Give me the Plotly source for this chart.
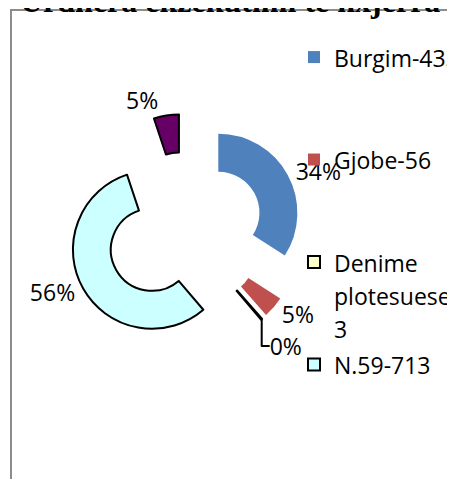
import plotly.graph_objects as go

# ---- data ----
categories = ["Burgim-433", "Gjobe-56", "Denime plotesuese-3", "N.59-713", " "]
values = [433, 56, 3, 713, 65]
pct_labels = ["34%", "5%", "0%", "56%", "5%"]
title_text = "Urdhera ekzekutimi te nxjerra 2"

# ---- styles ----
slice_colors = ["#4F81BD", "#C0504D", "#FFFFCC", "#CCFFFF", "#660066"]
slice_line_w = [0, 0, 2, 2, 2]
S = "<span style='font-size:23px'>{}</span>"
# legend text (wrapping / spacing lines only)
legend_text = [
    S.format("Burgim-433") + "<br> <br> ",
    S.format("Gjobe-56") + "<br> <br> ",
    S.format("Denime") + "<br>" + S.format("plotesuese-") + "<br>" + S.format("3"),
    S.format("N.59-713") + "<br> <br> <br> ",
    " ",
]

W, H = 455, 479
cx, cy, box = 177, 223, 234

fig = go.Figure(
    go.Pie(
        labels=legend_text,
        values=values,
        text=pct_labels,
        textinfo="text",
        textposition="outside",
        sort=False,
        direction="clockwise",
        rotation=0,
        hole=0.52,
        pull=[0.48] * len(values),
        marker=dict(colors=slice_colors, line=dict(color="black", width=slice_line_w)),
        textfont=dict(family="Open Sans", size=23, color="black"),
        outsidetextfont=dict(family="Open Sans", size=23, color="black"),
        domain=dict(
            x=[(cx - box / 2) / W, (cx + box / 2) / W],
            y=[1 - (cy + box / 2) / H, 1 - (cy - box / 2) / H],
        ),
        hoverinfo="label+percent",
    )
)

fig.add_shape(
    type="rect", xref="paper", yref="paper",
    x0=3 / W, x1=1.2, y0=-0.2, y1=1 - 2 / H,
    line=dict(color="#8c8c8c", width=2), fillcolor="rgba(0,0,0,0)", layer="below",
)

fig.add_annotation(
    text="<b>" + title_text + "</b>", xref="paper", yref="paper",
    x=10 / W, y=1 - 13 / H, xanchor="left", yanchor="bottom",
    showarrow=False, font=dict(family="Liberation Serif", size=32, color="black"),
)

fig.update_layout(
    width=W, height=H,
    margin=dict(l=0, r=0, t=0, b=0, pad=0, autoexpand=False),
    paper_bgcolor="white", plot_bgcolor="white",
    showlegend=True,
    legend=dict(
        x=286 / W, y=1 - 26 / H, xanchor="left", yanchor="top",
        font=dict(family="Open Sans", size=25.5, color="black"),
        valign="top", bgcolor="rgba(0,0,0,0)", borderwidth=0,
        maxheight=2000, tracegroupgap=0,
    ),
)

fig.write_html("out.html")
